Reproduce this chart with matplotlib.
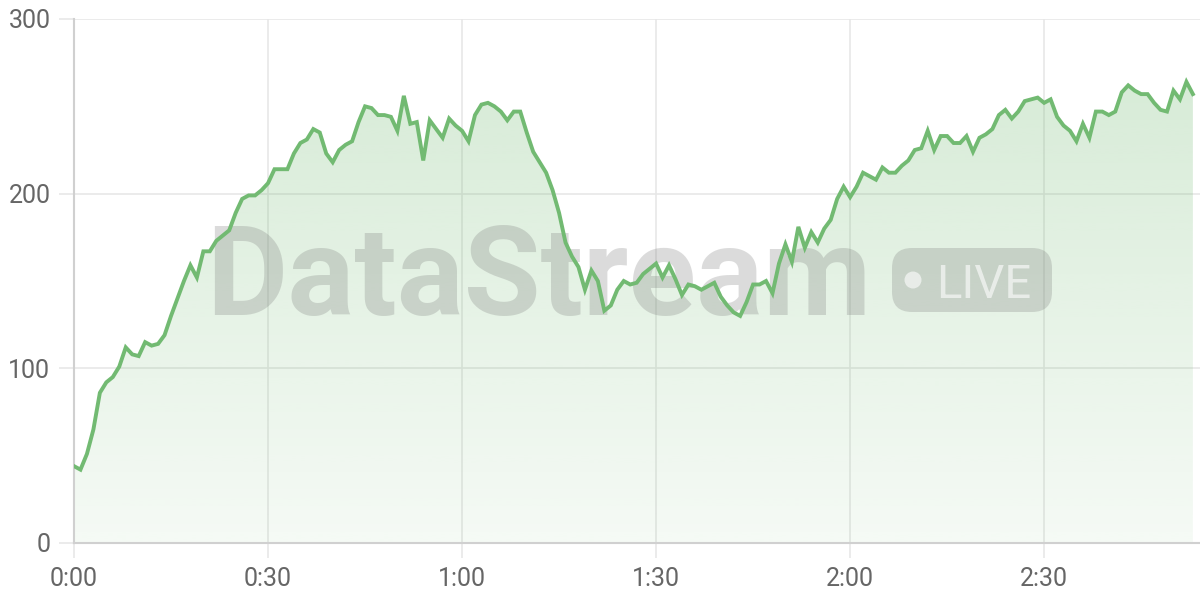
import numpy as np
import matplotlib
matplotlib.use('Agg')
import matplotlib.pyplot as plt
from matplotlib.colors import to_rgb
from matplotlib.patches import FancyBboxPatch, Circle
from matplotlib.transforms import IdentityTransform
from matplotlib.ticker import FuncFormatter

# Werte pro Sekunde (0:00 .. 2:53)
values = [
    44, 42, 51, 65, 86, 92, 95, 101, 112, 108,
    107, 115, 113, 114, 119, 130, 140, 150, 159, 152,
    167, 167, 173, 176, 179, 189, 197, 199, 199, 202,
    206, 214, 214, 214, 223, 229, 231, 237, 235, 223,
    218, 225, 228, 230, 241, 250, 249, 245, 245, 244,
    236, 256, 240, 241, 219, 242, 237, 232, 243, 239,
    236, 230, 245, 251, 252, 250, 247, 242, 247, 247,
    235, 224, 218, 212, 202, 189, 172, 164, 158, 145,
    156, 150, 133, 136, 145, 150, 148, 149, 154, 157,
    160, 152, 159, 151, 142, 148, 147, 145, 147, 149,
    141, 136, 132, 130, 138, 148, 148, 150, 143, 160,
    171, 161, 181, 169, 178, 172, 180, 185, 197, 204,
    198, 204, 212, 210, 208, 215, 212, 212, 216, 219,
    225, 226, 236, 225, 233, 233, 229, 229, 233, 224,
    232, 234, 237, 245, 248, 243, 247, 253, 254, 255,
    252, 254, 244, 239, 236, 230, 240, 232, 247, 247,
    245, 247, 258, 262, 259, 257, 257, 252, 248, 247,
    259, 254, 264, 257,
]
seconds = np.arange(len(values))

x_ticks = [0, 30, 60, 90, 120, 150]
y_ticks = [0, 100, 200, 300]

line_color = '#72ba72'
grid_color = '#e6e6e6'
label_color = '#666666'

plt.rcParams['font.family'] = ['Roboto', 'DejaVu Sans']

fig = plt.figure(figsize=(12, 6), dpi=100)
ax = fig.add_axes([74 / 1200, 57 / 600, 1126 / 1200, 524 / 600])

# Flaeche mit Farbverlauf
poly = ax.fill_between(seconds, values, 0, color='none', lw=0)
alpha = np.linspace(0.07, 0.28, 256)
rgba = np.zeros((256, 1, 4))
rgba[..., :3] = to_rgb(line_color)
rgba[:, 0, 3] = alpha
img = ax.imshow(rgba, extent=[0, seconds[-1], 0, max(values)], origin='lower',
                aspect='auto', zorder=1, interpolation='bilinear')
img.set_clip_path(poly.get_paths()[0], transform=ax.transData)

# Wasserzeichen
wm = (0.45, 0.45, 0.45, 0.25)
ax.text(206, 285, 'DataStream', transform=IdentityTransform(), fontsize=90,
        fontweight='bold', color=wm, ha='left', va='baseline', zorder=2)
badge = FancyBboxPatch((892, 288), 160, 64, boxstyle='round,pad=0,rounding_size=20',
                       transform=IdentityTransform(), facecolor=wm, edgecolor='none', zorder=2)
ax.add_artist(badge)
ax.add_artist(Circle((913, 320), 8.5, transform=IdentityTransform(),
                     facecolor=(1, 1, 1, 0.6), edgecolor='none', zorder=2))
ax.text(936, 302, 'LIVE', transform=IdentityTransform(), fontsize=34,
        color=(1, 1, 1, 0.6), ha='left', va='baseline', zorder=2)

ax.plot(seconds, values, color=line_color, lw=2.8, zorder=3, solid_joinstyle='miter')

ax.set_xlim(0, 174.1)
ax.set_ylim(0, 300)
ax.set_xticks(x_ticks)
ax.set_yticks(y_ticks)
ax.xaxis.set_major_formatter(FuncFormatter(lambda v, p: f'{int(v) // 60}:{int(v) % 60:02d}'))

ax.grid(True, color=grid_color, lw=1.1)
ax.set_axisbelow(True)
for s in ['top', 'right']:
    ax.spines[s].set_visible(False)
for s in ['left', 'bottom']:
    ax.spines[s].set_color('#d0d0d0')
    ax.spines[s].set_linewidth(1.5)
ax.tick_params(length=11, width=1.1, color=grid_color, labelcolor=label_color,
               labelsize=18, pad=6)

fig.savefig('out.png', dpi=100)
